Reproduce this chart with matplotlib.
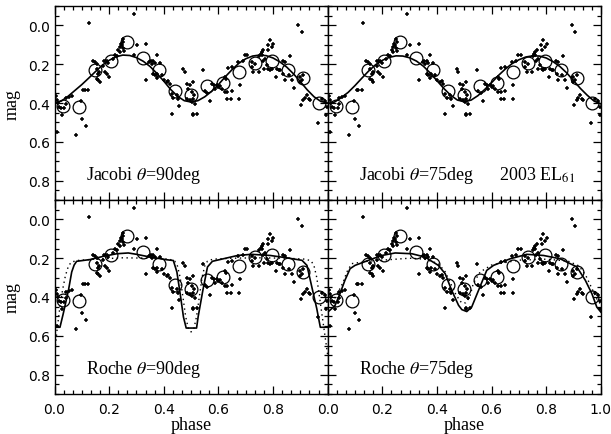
import matplotlib
matplotlib.use("Agg")
import matplotlib.pyplot as plt
from matplotlib.ticker import MultipleLocator, FixedLocator

plt.rcParams['mathtext.fontset'] = 'stix'

# ---------------- data ----------------
circle_phase = [0.030, 0.089, 0.148, 0.207, 0.264, 0.323, 0.384, 0.441, 0.499,
                0.557, 0.618, 0.677, 0.734, 0.795, 0.853, 0.911, 0.968]
circle_mag = [0.413, 0.423, 0.232, 0.184, 0.086, 0.167, 0.232, 0.340, 0.361,
              0.313, 0.298, 0.240, 0.192, 0.183, 0.230, 0.272, 0.399]

cross_phase = [
    0.005, 0.008, 0.012, 0.016, 0.022, 0.036, 0.041, 0.042, 0.053, 0.063, 0.026, 0.010,
    0.079, 0.096, 0.100, 0.116, 0.106, 0.112, 0.124, 0.128,
    0.140, 0.148, 0.154, 0.154, 0.164, 0.161, 0.154, 0.161, 0.167, 0.179, 0.185, 0.191,
    0.201, 0.181, 0.191, 0.197, 0.215, 0.222, 0.228, 0.234, 0.240, 0.240, 0.244,
    0.250, 0.252, 0.250, 0.255, 0.246, 0.291, 0.301, 0.335, 0.291, 0.335,
    0.347, 0.352, 0.356, 0.362, 0.368, 0.374, 0.387, 0.368, 0.374, 0.377, 0.362, 0.393,
    0.399, 0.411, 0.417, 0.423, 0.472, 0.478, 0.429, 0.447, 0.453, 0.435, 0.457, 0.429,
    0.484, 0.496, 0.490, 0.484, 0.496, 0.502, 0.506,
    0.508, 0.502, 0.511, 0.506, 0.514, 0.508, 0.520, 0.545, 0.576, 0.584, 0.594, 0.600,
    0.606, 0.588, 0.570, 0.551, 0.560, 0.612,
    0.625, 0.633, 0.649, 0.645, 0.679, 0.677, 0.633, 0.636, 0.649, 0.625, 0.628, 0.673,
    0.698, 0.706, 0.691, 0.722, 0.734, 0.722, 0.728, 0.747, 0.750, 0.755, 0.760,
    0.780, 0.789, 0.801, 0.795, 0.783, 0.765, 0.759, 0.771, 0.763, 0.777, 0.783, 0.789,
    0.795, 0.768, 0.814, 0.820, 0.826, 0.836, 0.844, 0.862, 0.838, 0.811, 0.857, 0.844,
    0.869, 0.875,
    0.899, 0.905, 0.897, 0.911, 0.924, 0.918, 0.930, 0.936, 0.911, 0.902, 0.979, 0.991,
    0.963, 0.893, 0.905, 0.995, 0.998,
]
cross_mag = [
    0.365, 0.383, 0.400, 0.420, 0.428, 0.425, 0.405, 0.375, 0.368, 0.365, 0.461, 0.547,
    0.564, 0.390, 0.482, 0.520, 0.335, 0.335, 0.332, -0.014,
    0.184, 0.189, 0.198, 0.224, 0.238, 0.249, 0.275, 0.284, 0.292, 0.210, 0.241, 0.249,
    0.267, 0.181, 0.186, 0.193, 0.172, 0.155, 0.160, 0.129, 0.137, 0.110, 0.094,
    0.069, 0.086, 0.117, 0.134, 0.100, -0.057, 0.100, 0.094, 0.151, 0.280,
    0.189, 0.181, 0.198, 0.186, 0.193, 0.155, 0.193, 0.258, 0.272, 0.249, 0.249, 0.258,
    0.284, 0.292, 0.289, 0.301, 0.224, 0.241, 0.353, 0.358, 0.378, 0.375, 0.413, 0.456,
    0.301, 0.309, 0.327, 0.378, 0.387, 0.396, 0.461,
    0.292, 0.344, 0.361, 0.378, 0.404, 0.456, 0.456, 0.232, 0.301, 0.306, 0.309, 0.318,
    0.313, 0.327, 0.392, 0.340, 0.347, 0.330,
    0.341, 0.341, 0.336, 0.378, 0.309, 0.378, 0.378, 0.220, 0.215, 0.267, 0.275, 0.189,
    0.155, 0.151, 0.181, 0.189, 0.198, 0.215, 0.241, 0.241, 0.160, 0.145, 0.138,
    0.100, 0.077, 0.094, 0.111, 0.129, 0.129, 0.155, 0.172, 0.186, 0.206, 0.227, 0.232,
    0.227, 0.224, 0.224, 0.232, 0.232, 0.181, 0.189, 0.158, 0.249, 0.267, 0.258, 0.284,
    0.284, 0.321,
    0.267, 0.284, 0.292, 0.255, 0.358, 0.375, 0.378, 0.387, 0.387, 0.409, 0.378, 0.392,
    0.504, -0.004, 0.034, 0.460, 0.420,
]

# model curves
jac_phase = [0.000, 0.025, 0.050, 0.075, 0.100, 0.125, 0.150, 0.175, 0.200, 0.225,
             0.250, 0.275, 0.300, 0.325, 0.350, 0.375, 0.400, 0.425, 0.450, 0.475,
             0.500, 0.525, 0.550, 0.575, 0.600, 0.625, 0.650, 0.675, 0.700, 0.725,
             0.750, 0.775, 0.800, 0.825, 0.850, 0.875, 0.900, 0.925, 0.950, 0.975, 1.000]
jac90_mag = [0.400, 0.390, 0.365, 0.335, 0.305, 0.272, 0.238, 0.205, 0.180, 0.162,
             0.153, 0.155, 0.166, 0.185, 0.212, 0.248, 0.287, 0.330, 0.365, 0.388,
             0.395, 0.388, 0.368, 0.340, 0.305, 0.265, 0.228, 0.195, 0.172, 0.158,
             0.153, 0.156, 0.168, 0.188, 0.215, 0.250, 0.290, 0.332, 0.368, 0.392, 0.400]
jac75_mag = [0.405, 0.395, 0.372, 0.345, 0.310, 0.272, 0.235, 0.203, 0.180, 0.165,
             0.157, 0.158, 0.167, 0.184, 0.210, 0.245, 0.285, 0.325, 0.360, 0.385,
             0.393, 0.385, 0.362, 0.330, 0.295, 0.258, 0.225, 0.197, 0.177, 0.163,
             0.157, 0.158, 0.168, 0.187, 0.212, 0.245, 0.285, 0.325, 0.360, 0.390, 0.405]

roche90_phase = [0.000, 0.020, 0.032, 0.051, 0.063, 0.072, 0.081, 0.130, 0.180, 0.228,
                 0.270, 0.300, 0.350, 0.411, 0.435, 0.448, 0.460, 0.472, 0.482, 0.520,
                 0.526, 0.543, 0.560, 0.578, 0.670, 0.720, 0.790, 0.850, 0.906, 0.924,
                 0.942, 0.960, 0.973, 1.000]
roche90_mag = [0.556, 0.556, 0.486, 0.366, 0.271, 0.235, 0.216, 0.207, 0.190, 0.177,
               0.173, 0.180, 0.194, 0.208, 0.212, 0.271, 0.383, 0.503, 0.560, 0.560,
               0.500, 0.366, 0.245, 0.216, 0.186, 0.180, 0.186, 0.198, 0.211, 0.237,
               0.349, 0.460, 0.556, 0.556]
roche90d_phase = [0.000, 0.010, 0.020, 0.030, 0.040, 0.050, 0.060, 0.080, 0.150, 0.250,
                  0.350, 0.420, 0.440, 0.450, 0.460, 0.470, 0.480, 0.490, 0.500, 0.510,
                  0.520, 0.530, 0.540, 0.550, 0.560, 0.580, 0.650, 0.750, 0.850, 0.920,
                  0.940, 0.950, 0.960, 0.970, 0.980, 0.990, 1.000]
roche90d_mag = [0.700, 0.560, 0.450, 0.360, 0.290, 0.245, 0.222, 0.212, 0.205, 0.198,
                0.200, 0.205, 0.215, 0.240, 0.300, 0.400, 0.500, 0.565, 0.580, 0.565,
                0.500, 0.400, 0.300, 0.240, 0.215, 0.205, 0.200, 0.198, 0.200, 0.205,
                0.215, 0.240, 0.300, 0.400, 0.500, 0.600, 0.700]

roche75_phase = [0.000, 0.021, 0.027, 0.045, 0.063, 0.082, 0.100, 0.149, 0.198, 0.247,
                 0.308, 0.356, 0.405, 0.430, 0.454, 0.479, 0.491, 0.509, 0.527, 0.552,
                 0.582, 0.607, 0.668, 0.729, 0.790, 0.851, 0.912, 0.943, 0.967, 0.985, 1.000]
roche75_mag = [0.478, 0.452, 0.443, 0.383, 0.314, 0.254, 0.237, 0.211, 0.186, 0.173,
               0.177, 0.194, 0.237, 0.280, 0.366, 0.443, 0.465, 0.475, 0.452, 0.366,
               0.263, 0.237, 0.203, 0.180, 0.186, 0.203, 0.245, 0.314, 0.383, 0.452, 0.478]
roche75d_phase = [0.000, 0.020, 0.040, 0.057, 0.070, 0.088, 0.150, 0.250, 0.300, 0.356,
                  0.405, 0.430, 0.450, 0.470, 0.490, 0.505, 0.520, 0.533, 0.558, 0.600,
                  0.700, 0.800, 0.880, 0.920, 0.945, 0.965, 0.985, 1.000]
roche75d_mag = [0.440, 0.420, 0.370, 0.323, 0.271, 0.228, 0.215, 0.205, 0.200, 0.205,
                0.228, 0.270, 0.330, 0.390, 0.430, 0.430, 0.400, 0.330, 0.271, 0.235,
                0.210, 0.205, 0.215, 0.240, 0.290, 0.350, 0.410, 0.440]

panel_labels = [r"Jacobi $\theta$=90deg", r"Jacobi $\theta$=75deg",
                r"Roche $\theta$=90deg", r"Roche $\theta$=75deg"]
x_ticks = [0.0, 0.2, 0.4, 0.6, 0.8, 1.0]
y_ticks = [0.0, 0.2, 0.4, 0.6, 0.8]

# ---------------- figure ----------------
W, H = 611, 435
fig = plt.figure(figsize=(W / 100, H / 100), dpi=100)

x0, xm, x1 = 54.5 / W, 327.7 / W, 600 / W
yt, ym, yb = 1 - 7 / H, 1 - 201 / H, 1 - 395 / H
pw = xm - x0
ph = yt - ym

rects = [(x0, ym, pw, ph), (xm, ym, pw, ph), (x0, yb, pw, ph), (xm, yb, pw, ph)]
axes = [fig.add_axes(r) for r in rects]

serif = ['Liberation Serif', 'DejaVu Serif']
for i, ax in enumerate(axes):
    ax.plot(cross_phase, cross_mag, ls='none', marker='+', ms=3.2, mew=1.1, color='black')
    ax.plot(circle_phase, circle_mag, ls='none', marker='o', ms=9.2, mew=0.9,
            mfc='none', mec='black')
    if i == 0:
        ax.plot(jac_phase, jac90_mag, color='black', lw=1.2)
    elif i == 1:
        ax.plot(jac_phase, jac75_mag, color='black', lw=1.2)
    elif i == 2:
        ax.plot(roche90_phase, roche90_mag, color='black', lw=1.2)
        ax.plot(roche90d_phase, roche90d_mag, color='black', lw=1.0, ls=(0, (1, 2.5)))
    else:
        ax.plot(roche75_phase, roche75_mag, color='black', lw=1.2)
        ax.plot(roche75d_phase, roche75d_mag, color='black', lw=1.0, ls=(0, (1, 2.5)))

    ax.set_xlim(0, 1)
    ax.set_ylim(0.9, -0.1)
    ax.xaxis.set_major_locator(FixedLocator(x_ticks))
    ax.xaxis.set_minor_locator(MultipleLocator(0.2 / 6))
    ax.yaxis.set_major_locator(FixedLocator(y_ticks))
    ax.yaxis.set_minor_locator(MultipleLocator(0.05))
    ax.tick_params(which='both', direction='in', top=True, right=True, width=0.9,
                   labelsize=10, colors='black')
    ax.tick_params(which='major', length=5.5)
    ax.tick_params(which='minor', length=2.8)
    for s in ax.spines.values():
        s.set_linewidth(1.0)

    ax.text(0.115, 0.77, panel_labels[i], fontsize=13,
            family=serif, va='center', ha='left')

    if i % 2 == 0:
        ax.set_ylabel('mag', family=serif, fontsize=13, labelpad=5)
        ax.set_yticklabels(['0.0', '0.2', '0.4', '0.6', '0.8'])
    else:
        ax.set_yticklabels([])
    if i >= 2:
        ax.set_xlabel('phase', family=serif, fontsize=13, labelpad=0)
        if i == 2:
            ax.set_xticklabels(['0.0', '0.2', '0.4', '0.6', '0.8', ''])
        else:
            ax.set_xticklabels(['0.0', '0.2', '0.4', '0.6', '0.8', '1.0'])
        ax.tick_params(axis='x', pad=6)
    else:
        ax.set_xticklabels([])

axes[1].text(0.627, 0.77, r"2003 EL$_{61}$", fontsize=13, family=serif,
             va='center', ha='left')

fig.savefig('out.png', dpi=100)
